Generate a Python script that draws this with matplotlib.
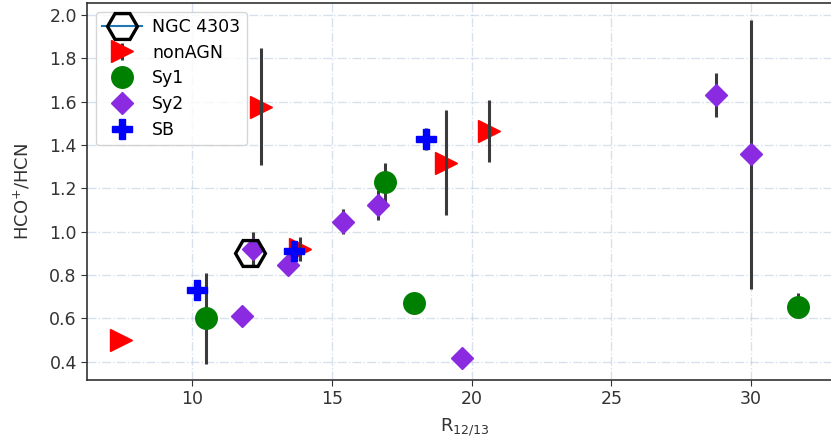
import matplotlib; matplotlib.use("Agg")
import matplotlib.pyplot as plt

# NGC 4303
ngc_x = [12.07]
ngc_y = [0.90]

# nonAGN
non_x = [7.45, 12.49, 13.86, 19.08, 20.63]
non_y = [0.50, 1.577, 0.92, 1.318, 1.465]
non_e = [0.0, 0.27, 0.055, 0.242, 0.143]

# Sy1 (lower / upper errors)
sy1_x = [10.50, 16.90, 17.95, 31.66]
sy1_y = [0.600, 1.228, 0.672, 0.654]
sy1_lo = [0.21, 0.09, 0.0, 0.0]
sy1_hi = [0.21, 0.09, 0.0, 0.065]

# Sy2
sy2_x = [11.80, 12.19, 13.44, 15.41, 16.66, 19.65, 28.74, 29.98]
sy2_y = [0.612, 0.919, 0.846, 1.046, 1.123, 0.416, 1.631, 1.357]
sy2_e = [0.0, 0.08, 0.0, 0.058, 0.07, 0.0, 0.103, 0.62]

# SB
sb_x = [10.20, 13.65, 18.37]
sb_y = [0.731, 0.912, 1.426]
sb_e = [0.0, 0.0, 0.05]

fig = plt.figure(figsize=(8.31, 4.42), dpi=100)
ax = fig.add_axes([0.105, 0.1403, 0.91, 0.8529])

ecol = "#3a3a3a"
ax.plot(ngc_x, ngc_y, marker="H", mfc="none", mec="k", ms=21.5, mew=2.4,
        label="NGC 4303", zorder=5)
eb = ax.errorbar(non_x, non_y, yerr=non_e, fmt=">", color="r", ms=15.5,
                 ecolor=ecol, elinewidth=2.2, label="nonAGN", zorder=2)
eb[2][0].set_zorder(3.5)  # bars drawn over the triangles
ax.errorbar(sy1_x, sy1_y, yerr=[sy1_lo, sy1_hi], fmt="o", color="g", ms=15.5,
            ecolor=ecol, elinewidth=2.2, label="Sy1", zorder=3)
ax.errorbar(sy2_x, sy2_y, yerr=sy2_e, fmt="D", color="blueviolet", ms=11.2,
            ecolor=ecol, elinewidth=2.2, label="Sy2", zorder=3)
ax.errorbar(sb_x, sb_y, yerr=sb_e, fmt="P", color="b", ms=15,
            ecolor=ecol, elinewidth=2.2, label="SB", zorder=4)

ax.set_xlim(6.26, 33.3)
ax.set_ylim(0.3155, 2.055)
ax.set_xticks([10, 15, 20, 25, 30])
ax.set_yticks([0.4, 0.6, 0.8, 1.0, 1.2, 1.4, 1.6, 1.8, 2.0])
ax.grid(True, color="lightsteelblue", linestyle="-.", alpha=0.5, lw=1)
ax.set_axisbelow(True)
for s in ax.spines.values():
    s.set_color("#333333"); s.set_linewidth(1.2)
ax.tick_params(labelsize=12.5, colors="#333333", length=4)
ax.set_xlabel(r"R$_{12/13}$", fontsize=13, color="#333333", labelpad=6)
ax.set_ylabel(r"HCO$^{+}$/HCN", fontsize=13, color="#333333", labelpad=12)
ax.legend(loc="upper left", fontsize=12.5, borderpad=0.35, labelspacing=0.45,
          handlelength=2.3, handletextpad=0.6, borderaxespad=0.5)

plt.savefig("out.png", dpi=100)
